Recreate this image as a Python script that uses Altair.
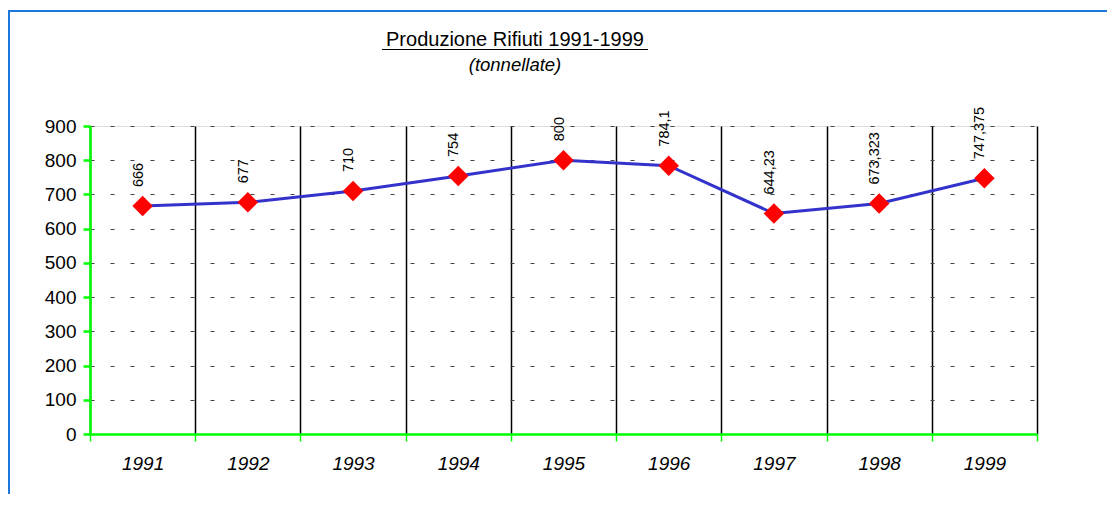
import altair as alt
import pandas as pd

years = ["1991", "1992", "1993", "1994", "1995", "1996", "1997", "1998", "1999"]
values = [666, 677, 710, 754, 800, 784.1, 644.23, 673.323, 747.375]
labels = ["666", "677", "710", "754", "800", "784,1", "644,23", "673,323", "747,375"]
y_ticks = [0, 100, 200, 300, 400, 500, 600, 700, 800, 900]

title_text = "Produzione Rifiuti 1991-1999"
subtitle_text = "(tonnellate)"

df = pd.DataFrame({"year": years, "value": values, "label": labels})
one = pd.DataFrame({"k": [0]})

FONT = "Liberation Sans"
GREEN = "#00FF00"
W, H = 947, 308

x_axis = alt.Axis(
    labelAngle=0, labelFontStyle="italic", labelFontSize=19, labelFont=FONT,
    labelColor="black", labelPadding=13,
    domainColor=GREEN, domainWidth=2.5,
    tickColor=GREEN, tickSize=7, tickWidth=1.5,
    grid=True, gridColor="black", gridWidth=1.5, tickBand="extent",
)
y_axis = alt.Axis(
    values=y_ticks, labelFontSize=19, labelFont=FONT, labelColor="black",
    labelPadding=7,
    domainColor=GREEN, domainWidth=2.5,
    tickColor=GREEN, tickSize=7, tickWidth=2.5,
    grid=True, gridColor="#444444", gridWidth=1, gridDash=[4, 16],
)

x_enc = alt.X("year:O", bandPosition=0.5, title=None, axis=x_axis,
              scale=alt.Scale(type="band", paddingInner=0, paddingOuter=0))
y_enc = alt.Y("value:Q", title=None, axis=y_axis,
              scale=alt.Scale(domain=[0, 900], nice=False))

line = alt.Chart(df).mark_line(color="#3333CC", strokeWidth=3).encode(x=x_enc, y=y_enc)
pts = alt.Chart(df).mark_point(shape="diamond", filled=True, color="#FF0000",
                               size=420, opacity=1).encode(x=x_enc, y=y_enc)
txt = alt.Chart(df).mark_text(angle=270, align="left", baseline="alphabetic",
                              fontSize=14.5, font=FONT, color="black",
                              yOffset=-19).encode(x=x_enc, y=y_enc, text="label:N")

title = alt.Chart(one).mark_text(fontSize=20, font=FONT, color="black",
                                 align="center", baseline="alphabetic").encode(
    x=alt.value(425), y=alt.value(-80), text=alt.value(title_text))
underline = alt.Chart(one).mark_rule(color="black", strokeWidth=1.2).encode(
    x=alt.value(292), x2=alt.value(558), y=alt.value(-76.5))
subtitle = alt.Chart(one).mark_text(fontSize=18.5, font=FONT, fontStyle="italic",
                                    color="black", align="center",
                                    baseline="alphabetic").encode(
    x=alt.value(425), y=alt.value(-55), text=alt.value(subtitle_text))

border_top = alt.Chart(one).mark_rule(color="#1E78DC", strokeWidth=2).encode(
    x=alt.value(-82), x2=alt.value(1040), y=alt.value(-115))
border_left = alt.Chart(one).mark_rule(color="#1E78DC", strokeWidth=2).encode(
    x=alt.value(-81), y=alt.value(-116), y2=alt.value(400))

chart = alt.layer(
    line, pts, txt, title, underline, subtitle, border_top, border_left
).properties(
    width=W, height=H,
    autosize=alt.AutoSizeParams(type="none"),
    padding={"left": 82, "top": 118, "right": 70, "bottom": 60},
).configure_view(stroke="transparent").configure(background="white")

chart.save("out.html", embed_options={"renderer": "svg", "actions": False})
